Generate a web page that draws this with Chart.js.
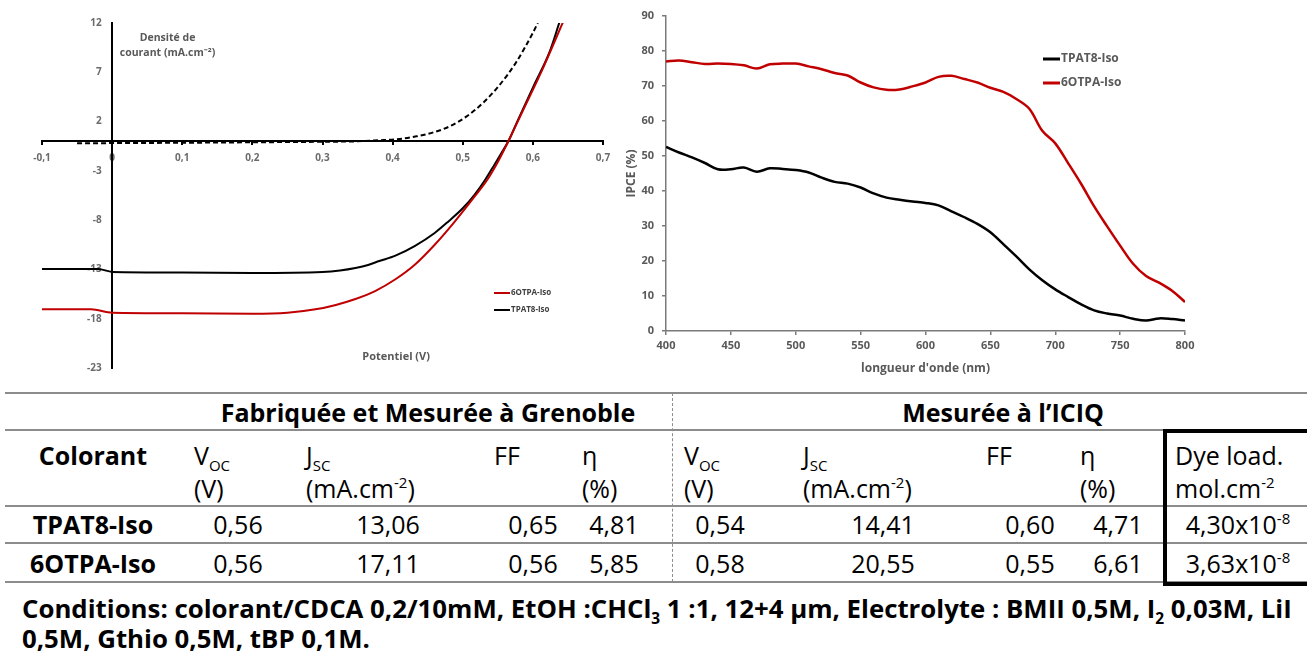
<!DOCTYPE html>
<html>
<head>
<meta charset="utf-8">
<script src="https://cdn.jsdelivr.net/npm/chart.js@4.4.1/dist/chart.umd.min.js"></script>
<style>
  body { margin: 0; background: #fff; width: 1307px; height: 653px; overflow: hidden; position: relative; font-family: 'Open Sans', sans-serif; }
  #jvChart { position: absolute; left: 0; top: 0; }
  #ipceChart { position: absolute; left: 620px; top: 0; }
  .t { position: absolute; white-space: nowrap; color: #000; line-height: 1; font-size: 25px; }
  .t sub, .t sup { font-size: 60%; line-height: 0; }
  .c { transform: translate(-50%, -50%); }
  .l { transform: translate(0, -50%); }
  .b { font-weight: bold; }
  .rule { position: absolute; left: 5px; width: 1302px; height: 0; border-top: 2px solid #8c8c8c; }
  .dash { position: absolute; left: 672px; top: 393px; height: 189px; width: 0; border-left: 1px dashed #8c8c8c; }
  .box { position: absolute; left: 1163px; top: 429px; width: 150px; height: 149px; border: 4px solid #000; }
  .cond { position: absolute; left: 22px; font-size: 25.8px; font-weight: bold; white-space: nowrap; line-height: 1; transform: translate(0, -50%); }
  .cond sub { font-size: 60%; line-height: 0; }
</style>
</head>
<body>
<canvas id="jvChart" width="620" height="380"></canvas>
<canvas id="ipceChart" width="687" height="380"></canvas>
<div id="table"></div>
<script>
// J-V curves (V, mA.cm-2)
const tpat8V = [-0.1, -0.02, 0, 0.1, 0.2, 0.3, 0.325, 0.347, 0.365, 0.381, 0.404, 0.432, 0.46, 0.48, 0.5, 0.517, 0.532, 0.545, 0.556, 0.565, 0.579, 0.601, 0.624, 0.638];
const tpat8J = [-12.95, -12.95, -13.25, -13.3, -13.35, -13.25, -13.1, -12.85, -12.55, -12.15, -11.6, -10.6, -9.3, -8.1, -6.8, -5.4, -3.9, -2.4, -1.1, 0, 2.2, 5.6, 9.1, 12.1];
const otpaV = [-0.1, -0.03, 0, 0.1, 0.2, 0.25, 0.29, 0.319, 0.347, 0.375, 0.404, 0.432, 0.46, 0.488, 0.517, 0.535, 0.55, 0.565, 0.585, 0.613, 0.643];
const otpaJ = [-17.05, -17.05, -17.4, -17.45, -17.5, -17.4, -17.05, -16.6, -16.0, -15.2, -14.0, -12.5, -10.5, -8.2, -5.6, -3.9, -2.1, 0, 3.0, 7.2, 12.1];
const darkV = [-0.05, 0.1, 0.2, 0.3, 0.35, 0.38, 0.405, 0.434, 0.458, 0.481, 0.505, 0.529, 0.553, 0.576, 0.6, 0.607];
const darkJ = [-0.2, -0.15, -0.1, -0.05, 0, 0.1, 0.2, 0.5, 0.9, 1.5, 2.5, 3.9, 5.75, 8.0, 11.0, 12.0];
const jvXTicks = [-0.1, 0, 0.1, 0.2, 0.3, 0.4, 0.5, 0.6, 0.7];
const jvXLabels = ['-0,1', '0', '0,1', '0,2', '0,3', '0,4', '0,5', '0,6', '0,7'];
const jvYTicks = [12, 7, 2, -3, -8, -13, -18, -23];

// IPCE spectra (nm, %)
const wavelengths = [400, 410, 420, 430, 440, 450, 460, 470, 480, 490, 500, 510, 520, 530, 540, 550, 560, 570, 580, 590, 600,
  610, 620, 630, 640, 650, 660, 670, 680, 690, 700, 710, 720, 730, 740, 750, 760, 770, 780, 790, 800];
const ipceTPAT8 = [52.6, 51.0, 49.6, 48.0, 46.2, 46.2, 46.7, 45.5, 46.5, 46.3, 46.0, 45.3, 43.8, 42.6, 42.1, 41.0, 39.3, 38.1, 37.5, 37.0, 36.6,
  35.9, 34.2, 32.5, 30.6, 28.2, 24.8, 21.3, 17.6, 14.5, 11.9, 9.7, 7.6, 5.9, 5.0, 4.4, 3.5, 3.0, 3.6, 3.4, 3.0];
const ipce6OTPA = [77.0, 77.3, 76.8, 76.3, 76.4, 76.3, 75.9, 75.0, 76.2, 76.4, 76.4, 75.6, 74.8, 73.7, 73.0, 71.0, 69.6, 68.9, 69.0, 69.9, 71.0,
  72.6, 72.9, 72.0, 71.0, 69.5, 68.3, 66.3, 63.5, 57.2, 53.6, 47.9, 42.0, 35.6, 29.9, 24.4, 19.2, 15.7, 13.8, 11.5, 8.3];
const wlTicks = [400, 450, 500, 550, 600, 650, 700, 750, 800];
const ipceTicks = [0, 10, 20, 30, 40, 50, 60, 70, 80, 90];

// photovoltaic table
const groupTitles = ['Fabriquée et Mesurée à Grenoble', 'Mesurée à l’ICIQ'];
const headLine1 = ['Colorant', 'V<sub>OC</sub>', 'J<sub>SC</sub>', 'FF', 'η', 'V<sub>OC</sub>', 'J<sub>SC</sub>', 'FF', 'η', 'Dye load.'];
const headLine2 = ['', '(V)', '(mA.cm<sup>-2</sup>)', '', '(%)', '(V)', '(mA.cm<sup>-2</sup>)', '', '(%)', 'mol.cm<sup>-2</sup>'];
const dyeNames = ['TPAT8-Iso', '6OTPA-Iso'];
const valuesTPAT8 = ['0,56', '13,06', '0,65', '4,81', '0,54', '14,41', '0,60', '4,71', '4,30x10<sup>-8</sup>'];
const values6OTPA = ['0,56', '17,11', '0,56', '5,85', '0,58', '20,55', '0,55', '6,61', '3,63x10<sup>-8</sup>'];
const conditionLines = [
  'Conditions: colorant/CDCA 0,2/10mM, EtOH :CHCl<sub>3</sub> 1 :1, 12+4 µm, Electrolyte : BMII 0,5M, I<sub>2</sub> 0,03M, LiI',
  '0,5M, Gthio 0,5M, tBP 0,1M.'
];

const RED = '#c00000';
const GREY = '#595959';

Chart.defaults.font.family = "'Open Sans', sans-serif";
Chart.defaults.animation = false;

const pairs = (xs, ys) => xs.map((x, i) => ({ x, y: ys[i] }));

// legend drawn inside the plot area
const innerLegend = {
    id: 'innerLegend',
    afterDatasetsDraw(chart, args, opts) {
        const { ctx, chartArea } = chart;
        ctx.save();
        ctx.font = opts.font;
        ctx.fillStyle = opts.color;
        ctx.textBaseline = 'middle';
        opts.order.forEach((idx, k) => {
            const ds = chart.data.datasets[idx];
            const y = chartArea.top + opts.y + k * opts.gap;
            const x = chartArea.left + opts.x;
            ctx.strokeStyle = ds.borderColor;
            ctx.lineWidth = opts.lineWidth;
            ctx.beginPath();
            ctx.moveTo(x, y);
            ctx.lineTo(x + opts.lineLen, y);
            ctx.stroke();
            ctx.fillText(ds.label, x + opts.lineLen + 1, y);
        });
        ctx.restore();
    },
};

// free text placed at data coordinates
const notes = {
    id: 'notes',
    afterDraw(chart, args, opts) {
        const { ctx, scales } = chart;
        ctx.save();
        ctx.textAlign = 'center';
        ctx.textBaseline = 'middle';
        ctx.fillStyle = opts.color;
        (opts.items || []).forEach((n) => {
            ctx.font = n.font;
            ctx.fillText(n.text, scales.x.getPixelForValue(n.x), scales.y.getPixelForValue(n.y));
        });
        ctx.restore();
    },
};

new Chart(document.getElementById('jvChart'), {
    type: 'line',
    plugins: [innerLegend, notes],
    data: {
        datasets: [
            {
                label: 'dark',
                data: pairs(darkV, darkJ),
                borderColor: '#000',
                borderWidth: 2,
                borderDash: [5, 3],
                pointRadius: 0,
                cubicInterpolationMode: 'monotone',
            },
            {
                label: '6OTPA-Iso',
                data: pairs(otpaV, otpaJ),
                borderColor: RED,
                borderWidth: 2,
                pointRadius: 0,
                cubicInterpolationMode: 'monotone',
            },
            {
                label: 'TPAT8-Iso',
                data: pairs(tpat8V, tpat8J),
                borderColor: '#000',
                borderWidth: 2,
                pointRadius: 0,
                cubicInterpolationMode: 'monotone',
            },
        ],
    },
    options: {
        responsive: false,
        layout: { padding: { left: 42, right: 17, top: 23, bottom: 12 } },
        plugins: {
            legend: { display: false },
            tooltip: { enabled: false },
            innerLegend: {
                order: [1, 2], x: 452, y: 270, gap: 17, lineLen: 16, lineWidth: 2,
                font: "bold 8px 'Open Sans'", color: '#404040',
            },
            notes: {
                color: GREY,
                items: [
                    { text: 'Densité de', x: 0.079, y: 10.5, font: "bold 10.5px 'Open Sans'" },
                    { text: 'courant (mA.cm⁻²)', x: 0.079, y: 9.0, font: "bold 10.5px 'Open Sans'" },
                    { text: 'Potentiel (V)', x: 0.405, y: -21.9, font: "bold 11px 'Open Sans'" },
                ],
            },
        },
        scales: {
            x: {
                type: 'linear',
                min: -0.1,
                max: 0.7,
                position: { y: 0 },
                afterBuildTicks: (s) => { s.ticks = jvXTicks.map((v) => ({ value: v })); },
                afterFit: (s) => { s.height = 0; },
                grid: { drawOnChartArea: false, drawTicks: true, tickLength: 3, color: '#000', lineWidth: 2 },
                border: { color: '#000', width: 2 },
                ticks: {
                    callback: (v, i) => jvXLabels[i],
                    color: '#6b6b6b',
                    font: { size: 10, weight: 'bold' },
                    padding: 8,
                    maxRotation: 0,
                    autoSkip: false,
                },
            },
            y: {
                type: 'linear',
                min: -23,
                max: 12,
                position: { x: 0 },
                afterBuildTicks: (s) => { s.ticks = jvYTicks.map((v) => ({ value: v })); },
                afterFit: (s) => { s.width = 0; },
                grid: { drawOnChartArea: false, drawTicks: false },
                border: { color: '#000', width: 2 },
                ticks: {
                    callback: (v) => v + '    ',
                    color: '#6b6b6b',
                    font: { size: 10, weight: 'bold' },
                    autoSkip: false,
                },
            },
        },
    },
});

new Chart(document.getElementById('ipceChart'), {
    type: 'line',
    plugins: [innerLegend],
    data: {
        datasets: [
            {
                label: 'TPAT8-Iso',
                data: pairs(wavelengths, ipceTPAT8),
                borderColor: '#000',
                borderWidth: 2.5,
                pointRadius: 0,
                tension: 0.35,
            },
            {
                label: '6OTPA-Iso',
                data: pairs(wavelengths, ipce6OTPA),
                borderColor: RED,
                borderWidth: 2.5,
                pointRadius: 0,
                tension: 0.35,
            },
        ],
    },
    options: {
        responsive: false,
        layout: { padding: { left: 0, right: 122, top: 16, bottom: 0 } },
        plugins: {
            legend: { display: false },
            tooltip: { enabled: false },
            innerLegend: {
                order: [0, 1], x: 377, y: 43, gap: 24, lineLen: 17, lineWidth: 3,
                font: "bold 12px 'Open Sans'", color: GREY,
            },
        },
        scales: {
            x: {
                type: 'linear',
                min: 400,
                max: 800,
                afterBuildTicks: (s) => { s.ticks = wlTicks.map((v) => ({ value: v })); },
                afterFit: (s) => { s.height = 49; },
                grid: { drawOnChartArea: false, tickLength: 4, color: '#7a7a7a', lineWidth: 1.5 },
                border: { color: '#7a7a7a', width: 1.5 },
                ticks: { color: GREY, font: { size: 11, weight: 'bold' }, padding: 4, maxRotation: 0, autoSkip: false },
                title: {
                    display: true,
                    text: "longueur d'onde (nm)",
                    color: GREY,
                    font: { size: 12, weight: 'bold' },
                    padding: { top: 0, bottom: 4 },
                },
            },
            y: {
                type: 'linear',
                min: 0,
                max: 90,
                afterBuildTicks: (s) => { s.ticks = ipceTicks.map((v) => ({ value: v })); },
                afterFit: (s) => { s.width = 46; },
                grid: { drawOnChartArea: false, tickLength: 4, color: '#7a7a7a', lineWidth: 1.5 },
                border: { color: '#7a7a7a', width: 1.5 },
                ticks: { color: GREY, font: { size: 11, weight: 'bold' }, padding: 8, autoSkip: false },
                title: {
                    display: true,
                    text: 'IPCE (%)',
                    color: GREY,
                    font: { size: 12, weight: 'bold' },
                    padding: { top: 4, bottom: 0 },
                },
            },
        },
    },
});

// table layout
const table = document.getElementById('table');
function put(html, x, y, cls) {
    const el = document.createElement('div');
    el.className = 't ' + cls;
    el.style.left = x + 'px';
    el.style.top = y + 'px';
    el.innerHTML = html;
    table.appendChild(el);
}
[393, 430, 506, 543, 582].forEach((y) => {
    const r = document.createElement('div');
    r.className = 'rule';
    r.style.top = (y - 1) + 'px';
    table.appendChild(r);
});
const d = document.createElement('div'); d.className = 'dash'; table.appendChild(d);
const bx = document.createElement('div'); bx.className = 'box'; table.appendChild(bx);

const groupX = [428, 1003];
groupTitles.forEach((t, i) => put(t, groupX[i], 412, 'c b'));
const headX = [93, 194, 306, 494, 582, 684, 803, 986, 1080, 1175];
headLine1.forEach((t, i) => put(t, headX[i], 455, i === 0 ? 'c b' : 'l'));
headLine2.forEach((t, i) => { if (t) put(t, headX[i], 488, 'l'); });
const valX = [238, 388, 533, 614, 720, 883, 1030, 1118, 1238];
[valuesTPAT8, values6OTPA].forEach((row, r) => {
    const y = r === 0 ? 524 : 563;
    put(dyeNames[r], 93, y, 'c b');
    row.forEach((v, i) => put(v, valX[i], y, 'c'));
});
conditionLines.forEach((line, i) => {
    const el = document.createElement('div');
    el.className = 'cond';
    el.style.top = (i === 0 ? 609 : 639) + 'px';
    el.innerHTML = line;
    table.appendChild(el);
});
</script>
</body>
</html>
